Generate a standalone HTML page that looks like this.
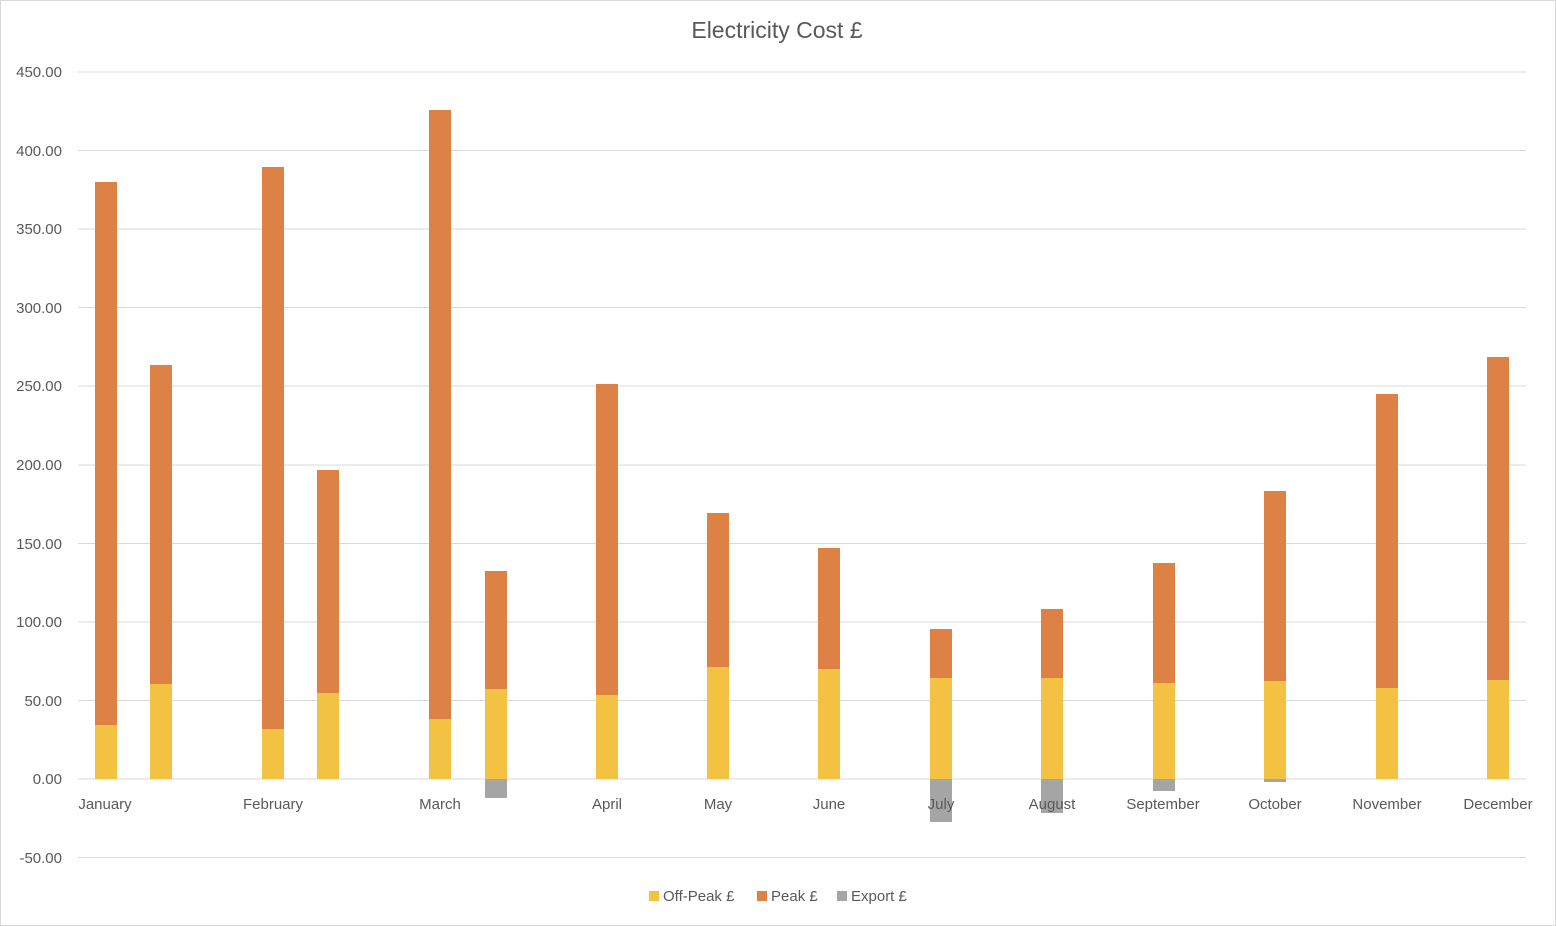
<!DOCTYPE html>
<html><head><meta charset="utf-8"><style>
body{margin:0;background:#fff;}
svg{display:block;font-family:"Liberation Sans",sans-serif;}
</style></head><body>
<svg width="1556" height="926" viewBox="0 0 1556 926" xmlns="http://www.w3.org/2000/svg">
<rect x="0.5" y="0.5" width="1555" height="925" fill="#fff" stroke="#d9d9d9"/>
<text x="777" y="38" text-anchor="middle" font-size="23" fill="#595959">Electricity Cost £</text>
<g stroke="#d9d9d9" stroke-width="1">
<line x1="78" x2="1526" y1="72" y2="72"/><line x1="78" x2="1526" y1="150.5" y2="150.5"/>
<line x1="78" x2="1526" y1="229" y2="229"/><line x1="78" x2="1526" y1="307.5" y2="307.5"/>
<line x1="78" x2="1526" y1="386" y2="386"/><line x1="78" x2="1526" y1="465" y2="465"/>
<line x1="78" x2="1526" y1="543.5" y2="543.5"/><line x1="78" x2="1526" y1="622" y2="622"/>
<line x1="78" x2="1526" y1="700.5" y2="700.5"/><line x1="78" x2="1526" y1="779" y2="779"/>
<line x1="78" x2="1526" y1="857.5" y2="857.5"/>
</g>
<g font-size="15" fill="#595959" text-anchor="end">
<text x="62" y="77">450.00</text><text x="62" y="156">400.00</text><text x="62" y="234">350.00</text>
<text x="62" y="313">300.00</text><text x="62" y="391">250.00</text><text x="62" y="470">200.00</text>
<text x="62" y="549">150.00</text><text x="62" y="627">100.00</text><text x="62" y="706">50.00</text>
<text x="62" y="784">0.00</text><text x="62" y="863">-50.00</text>
</g>
<g>
<!-- peak -->
<g fill="#DD8244">
<rect x="95" y="182" width="22" height="543"/><rect x="150" y="365" width="22" height="319"/>
<rect x="262" y="167" width="22" height="562"/><rect x="317" y="470" width="22" height="223"/>
<rect x="429" y="110" width="22" height="609"/><rect x="485" y="571" width="22" height="118"/>
<rect x="596" y="384" width="22" height="311"/><rect x="707" y="513" width="22" height="154"/>
<rect x="818" y="548" width="22" height="121"/><rect x="930" y="629" width="22" height="49"/>
<rect x="1041" y="609" width="22" height="69"/><rect x="1153" y="563" width="22" height="120"/>
<rect x="1264" y="491" width="22" height="190"/><rect x="1376" y="394" width="22" height="294"/>
<rect x="1487" y="357" width="22" height="323"/>
</g>
<g fill="#F4C242">
<rect x="95" y="725" width="22" height="54"/><rect x="150" y="684" width="22" height="95"/>
<rect x="262" y="729" width="22" height="50"/><rect x="317" y="693" width="22" height="86"/>
<rect x="429" y="719" width="22" height="60"/><rect x="485" y="689" width="22" height="90"/>
<rect x="596" y="695" width="22" height="84"/><rect x="707" y="667" width="22" height="112"/>
<rect x="818" y="669" width="22" height="110"/><rect x="930" y="678" width="22" height="101"/>
<rect x="1041" y="678" width="22" height="101"/><rect x="1153" y="683" width="22" height="96"/>
<rect x="1264" y="681" width="22" height="98"/><rect x="1376" y="688" width="22" height="91"/>
<rect x="1487" y="680" width="22" height="99"/>
</g>
<g fill="#A5A5A5">
<rect x="485" y="779" width="22" height="19"/><rect x="930" y="779" width="22" height="43"/>
<rect x="1041" y="779" width="22" height="34"/><rect x="1153" y="779" width="22" height="12"/>
<rect x="1264" y="779" width="22" height="3"/>
</g>
</g>
<g font-size="15" fill="#595959" text-anchor="middle">
<text x="105" y="809">January</text><text x="273" y="809">February</text><text x="440" y="809">March</text>
<text x="607" y="809">April</text><text x="718" y="809">May</text><text x="829" y="809">June</text>
<text x="941" y="809">July</text><text x="1052" y="809">August</text><text x="1163" y="809">September</text>
<text x="1275" y="809">October</text><text x="1387" y="809">November</text><text x="1498" y="809">December</text>
</g>
<g font-size="15" fill="#595959">
<rect x="649" y="891" width="10" height="10" fill="#F4C242"/><text x="663" y="901">Off-Peak £</text>
<rect x="757" y="891" width="10" height="10" fill="#DD8244"/><text x="771" y="901">Peak £</text>
<rect x="837" y="891" width="10" height="10" fill="#A5A5A5"/><text x="851" y="901">Export £</text>
</g>
</svg>
</body></html>
